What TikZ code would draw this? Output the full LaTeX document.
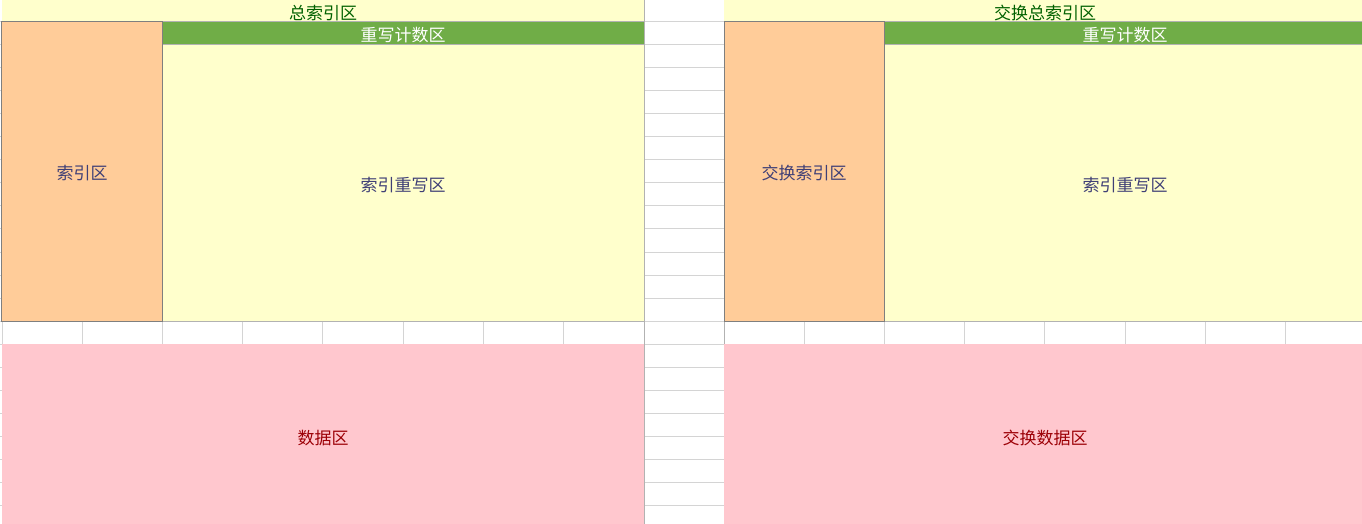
\documentclass[tikz,border=0pt]{standalone}
\usepackage{fontspec}
\newfontfamily\cjk{Noto Sans CJK SC}
\usepackage{tikz}
\definecolor{notefill}{HTML}{FFFFCC}
\definecolor{noteborder}{HTML}{B2B2B2}
\definecolor{inputfill}{HTML}{FFCC99}
\definecolor{inputtext}{HTML}{3F3F76}
\definecolor{inputborder}{HTML}{7F7F7F}
\definecolor{accentgreen}{HTML}{70AD47}
\definecolor{badfill}{HTML}{FFC7CE}
\definecolor{badtext}{HTML}{9C0006}
\definecolor{goodtext}{HTML}{006100}
\definecolor{gridgray}{HTML}{D4D4D4}

\begin{document}
\begin{tikzpicture}[x=1bp,y=-1bp,
 cell/.style={rectangle,inner sep=0pt,outer sep=0pt,line width=1bp,text height=17bp,text depth=0bp,font=\cjk\fontsize{17bp}{20bp}\selectfont},
 gridline/.style={draw=gridgray,line width=1bp}]
\useasboundingbox (0,0) rectangle (1362,524);
\clip (0,0) rectangle (1362,524);
\fill[white] (0,0) rectangle (1362,524);
% sheet grid
\foreach \y in {22,45,...,505} {
  \draw[gridline] (644,\y) -- (724,\y);
  \draw[gridline] (0,\y) -- (2,\y);
}
\draw[gridline] (2,0) -- (2,524);
\draw[gridline,draw=noteborder] (644,0) -- (644,524);
\draw[gridline,draw=noteborder] (724,0) -- (724,524);
% both halves
\foreach \s/\dx/\ttl/\idx/\dat in {L/0/总索引区/索引区/数据区,R/722/交换总索引区/交换索引区/交换数据区}{
 \begin{scope}[shift={(\dx,0)}]
  \foreach \x in {82,162,242,322,403,483,563} \draw[gridline] (\x,321) -- (\x,344);
  \node[cell,fill=notefill,text=goodtext,minimum width=642bp,minimum height=22bp] (top\s) at (323,11) {\ttl};
  \node[cell,fill=notefill,draw=noteborder,text=inputtext,minimum width=482bp,minimum height=276bp] (rw\s) at (403,183) {索引重写区};
  \node[cell,fill=accentgreen,draw=noteborder,text=white,minimum width=482bp,minimum height=23bp] (cnt\s) at (403,33.5) {重写计数区};
  \node[cell,fill=inputfill,draw=inputborder,text=inputtext,minimum width=160bp,minimum height=299bp] (idx\s) at (82,171.5) {\idx};
  \node[cell,fill=badfill,text=badtext,minimum width=642bp,minimum height=184bp] (dat\s) at (323,436) {\dat};
 \end{scope}
}
\end{tikzpicture}
\end{document}
